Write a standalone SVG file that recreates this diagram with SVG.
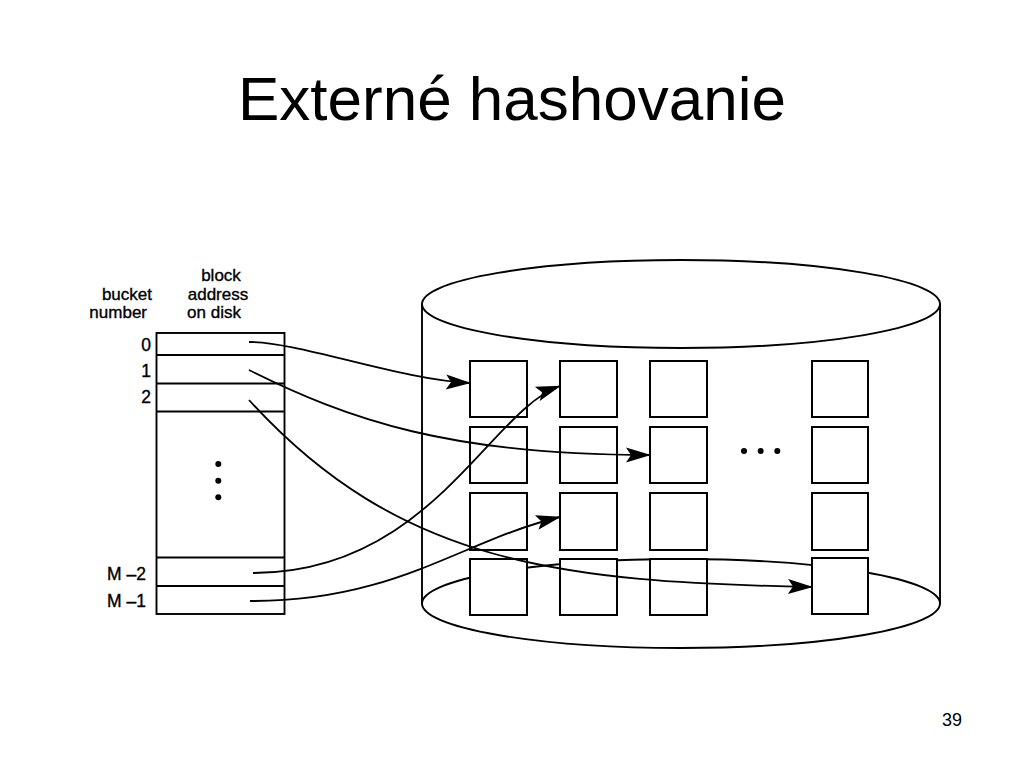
<svg xmlns="http://www.w3.org/2000/svg" width="1024" height="768" viewBox="0 0 1024 768">
<style>
.ln{fill:none;stroke:#000;stroke-width:1.9}
.bx{fill:#fff;stroke:#000;stroke-width:2}
.cv{fill:none;stroke:#000;stroke-width:1.8}
.lb{font-family:"Liberation Sans",Arial,sans-serif;font-size:17px;fill:#000;stroke:#000;stroke-width:0.35}
.nm{font-family:"Liberation Sans",Arial,sans-serif;font-size:17.5px;fill:#000;stroke:#000;stroke-width:0.35}
</style>
<defs>
<marker id="ah" viewBox="-28 -10 30 20" refX="0" refY="0" markerWidth="30" markerHeight="20" markerUnits="userSpaceOnUse" orient="auto">
<path d="M1,0 L-24,-7.5 L-19,0 L-24,7.5 Z" fill="#000"/>
</marker>
</defs>
<rect width="1024" height="768" fill="#fff"/>
<text x="512" y="120" text-anchor="middle" font-family="Liberation Sans, Arial, sans-serif" font-size="62">Externé hashovanie</text>
<text x="962" y="726" text-anchor="end" font-family="Liberation Sans, Arial, sans-serif" font-size="18">39</text>

<g id="bucket-directory">
<text class="lb" x="152" y="300" text-anchor="end">bucket</text>
<text class="lb" x="147" y="318" text-anchor="end">number</text>
<text class="lb" x="221" y="281" text-anchor="middle">block</text>
<text class="lb" x="218" y="300" text-anchor="middle">address</text>
<text class="lb" x="214" y="318" text-anchor="middle">on disk</text>
<rect class="ln" x="156.5" y="333" width="128" height="281"/>
<line class="ln" x1="156.5" y1="355" x2="284.5" y2="355"/>
<line class="ln" x1="156.5" y1="383.5" x2="284.5" y2="383.5"/>
<line class="ln" x1="156.5" y1="411.5" x2="284.5" y2="411.5"/>
<line class="ln" x1="156.5" y1="557.5" x2="284.5" y2="557.5"/>
<line class="ln" x1="156.5" y1="586" x2="284.5" y2="586"/>
<text class="nm" x="151" y="351" text-anchor="end">0</text>
<text class="nm" x="151" y="377" text-anchor="end">1</text>
<text class="nm" x="151" y="403" text-anchor="end">2</text>
<text class="nm" x="146" y="580" text-anchor="end">M –2</text>
<text class="nm" x="146" y="607" text-anchor="end">M –1</text>
<circle cx="218.3" cy="464" r="3"/>
<circle cx="218.3" cy="480.7" r="3"/>
<circle cx="218.3" cy="497.3" r="3"/>
</g>

<g id="disk">
<ellipse class="ln" cx="681" cy="603.5" rx="259" ry="44.5"/>
<line class="ln" x1="422" y1="304" x2="422" y2="603.5"/>
<line class="ln" x1="940" y1="304" x2="940" y2="603.5"/>
<ellipse class="ln" cx="681" cy="304" rx="259" ry="44"/>
<circle cx="744" cy="451" r="3"/>
<circle cx="760.7" cy="451" r="3"/>
<circle cx="777.3" cy="451" r="3"/>
</g>

<g id="blocks">
<g id="b00"><rect class="bx" x="470" y="361" width="57" height="56"/></g>
<g id="b01"><rect class="bx" x="560" y="361" width="57" height="56"/></g>
<g id="b02"><rect class="bx" x="650" y="361" width="57" height="56"/></g>
<g id="b03"><rect class="bx" x="812" y="361" width="56" height="56"/></g>
<g id="b10"><rect class="bx" x="470" y="427" width="57" height="56"/></g>
<g id="b11"><rect class="bx" x="560" y="427" width="57" height="56"/></g>
<g id="b12"><rect class="bx" x="650" y="427" width="57" height="56"/></g>
<g id="b13"><rect class="bx" x="812" y="427" width="56" height="56"/></g>
<g id="b20"><rect class="bx" x="470" y="493" width="57" height="57"/></g>
<g id="b21"><rect class="bx" x="560" y="493" width="57" height="57"/></g>
<g id="b22"><rect class="bx" x="650" y="493" width="57" height="57"/></g>
<g id="b23"><rect class="bx" x="812" y="493" width="56" height="57"/></g>
<g id="b30"><rect class="bx" x="470" y="559" width="57" height="56"/></g>
<g id="b31"><rect class="bx" x="560" y="559" width="57" height="56"/></g>
<g id="b32"><rect class="bx" x="650" y="559" width="57" height="56"/></g>
<g id="b33"><rect class="bx" x="812" y="558" width="56" height="56"/></g>
</g>

<g id="connectors">
<path class="cv" marker-end="url(#ah)" d="M249,342 C300,342 400,380 470,383"/>
<path class="cv" marker-end="url(#ah)" d="M249,370 C349,420 450,455 650,455"/>
<path class="cv" marker-end="url(#ah)" d="M249,400 C399,565 562,582 812,587"/>
<path class="cv" marker-end="url(#ah)" d="M253,573 C430,573 490,410 560,386"/>
<path class="cv" marker-end="url(#ah)" d="M250,601 C395,602 463,540 560,517"/>
</g>
</svg>
